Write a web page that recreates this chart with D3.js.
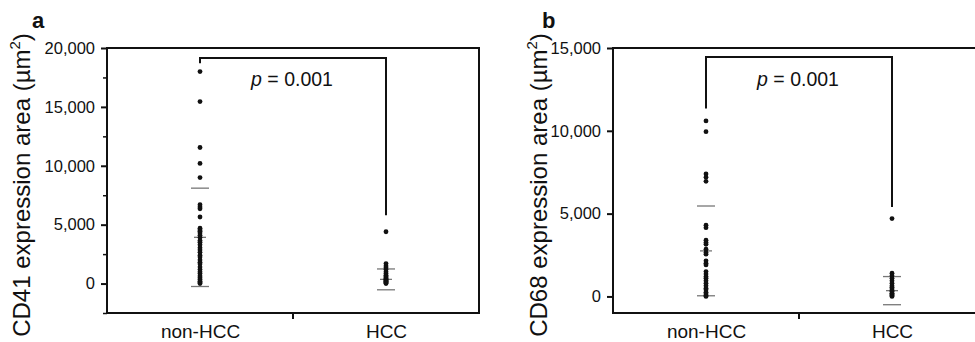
<!DOCTYPE html>
<html>
<head>
<meta charset="utf-8">
<script src="https://cdn.jsdelivr.net/npm/d3@7"></script>
<style>
  html, body { margin: 0; padding: 0; background: #fff; }
  svg { display: block; font-family: "Liberation Sans", Arial, sans-serif; }
  .axis path, .axis line { stroke: #111; }
  .axis text { fill: #111; }
</style>
</head>
<body>
<svg id="chart" width="975" height="342"></svg>
<script>
// categories shared by both panels
const categories = ['non-HCC', 'HCC'];

// panel a: CD41 expression area (µm²)
const cd41NonHcc = [18000, 15450, 11550, 10200, 9000, 6700, 6500, 6350, 5650,
  4700, 4550, 4450, 4300, 4100, 3900, 3650, 3500, 3300, 3050, 2850, 2650, 2400,
  2250, 2000, 1800, 1650, 1400, 1200, 1000, 850, 650, 500, 350, 200, 100, 0];
const cd41Hcc = [4400, 1700, 1500, 1350, 1200, 1000, 850, 700, 600, 500, 420,
  350, 300, 250, 200, 150, 100, 50, 0];
const cd41Mean = [3925, 355];
const cd41Sd = [4175, 885];
const cd41Ticks = [0, 5000, 10000, 15000, 20000];
const cd41Minor = [-2500, 2500, 7500, 12500, 17500];
const cd41Bracket = { top: 19150, left: 18700, right: 5800 };

// panel b: CD68 expression area (µm²)
const cd68NonHcc = [10600, 9950, 7400, 7200, 6950, 4300, 4150, 3400, 3250, 3150,
  2850, 2650, 2550, 2150, 2000, 1900, 1500, 1350, 1200, 1100, 950, 800, 650,
  500, 400, 250, 150, 50, 0];
const cd68Hcc = [4700, 1400, 1250, 1100, 950, 800, 650, 550, 450, 350, 300,
  200, 150, 100, 50, 0];
const cd68Mean = [2750, 350];
const cd68Sd = [2710, 850];
const cd68Ticks = [0, 5000, 10000, 15000];
const cd68Minor = [];
const cd68Bracket = { top: 14450, left: 11350, right: 5400 };

const pLabel = '= 0.001';

const svg = d3.select('#chart');
const plotW = 372, plotH = 265, plotTop = 48;

function drawPanel(opts) {
  const g = svg.append('g').attr('transform', `translate(${opts.left},${plotTop})`);

  const x = d3.scalePoint().domain(categories).range([0, plotW]).padding(0.5);
  const y = d3.scaleLinear().domain(opts.domain).range([plotH, 0]);

  // frame
  g.append('rect')
    .attr('width', plotW).attr('height', plotH)
    .attr('fill', 'none').attr('stroke', '#111').attr('stroke-width', 2);

  // y axis, major + minor ticks
  const yAxis = g.append('g').attr('class', 'axis')
    .call(d3.axisLeft(y).tickValues(opts.ticks).tickSize(6).tickPadding(6)
      .tickFormat(d3.format(',')));
  yAxis.select('.domain').remove();
  yAxis.selectAll('line').attr('stroke-width', 2);
  yAxis.selectAll('text').attr('font-size', 16.5);

  if (opts.minor.length) {
    const minor = g.append('g').attr('class', 'axis')
      .call(d3.axisLeft(y).tickValues(opts.minor).tickSize(4).tickFormat(''));
    minor.select('.domain').remove();
    minor.selectAll('line').attr('stroke-width', 1.5);
  }

  // x axis: category labels, one tick between groups
  const xAxis = g.append('g').attr('class', 'axis')
    .attr('transform', `translate(0,${plotH})`)
    .call(d3.axisBottom(x).tickSize(0).tickPadding(12));
  xAxis.select('.domain').remove();
  xAxis.selectAll('text').attr('font-size', 19);

  g.append('line')
    .attr('x1', plotW / 2).attr('x2', plotW / 2)
    .attr('y1', plotH).attr('y2', plotH + 6)
    .attr('stroke', '#111').attr('stroke-width', 2);

  // axis title
  const title = g.append('text')
    .attr('transform', `translate(${opts.titleX},${185 - plotTop}) rotate(-90)`)
    .attr('text-anchor', 'middle')
    .attr('font-size', 24)
    .attr('fill', '#111');
  title.append('tspan').text(opts.title + ' (µm');
  title.append('tspan').attr('font-size', 15).attr('dy', -10).text('2');
  title.append('tspan').attr('dy', 10).text(')');

  // panel letter
  svg.append('text')
    .attr('x', opts.letterX).attr('y', 28)
    .attr('font-size', 22).attr('font-weight', 'bold').attr('fill', '#111')
    .text(opts.letter);

  // mean ± SD bars
  categories.forEach((c, i) => {
    const cx = x(c);
    const m = opts.mean[i], s = opts.sd[i];
    [m + s, m - s].forEach(v => {
      g.append('line')
        .attr('x1', cx - 9).attr('x2', cx + 9)
        .attr('y1', y(v)).attr('y2', y(v))
        .attr('stroke', '#777').attr('stroke-width', 1.3);
    });
    g.append('line')
      .attr('x1', cx - 6).attr('x2', cx + 6)
      .attr('y1', y(m)).attr('y2', y(m))
      .attr('stroke', '#777').attr('stroke-width', 1.3);
  });

  // dots
  opts.series.forEach((vals, i) => {
    g.selectAll(null)
      .data(vals)
      .enter()
      .append('circle')
      .attr('cx', x(categories[i]))
      .attr('cy', d => y(d))
      .attr('r', 2.4)
      .attr('fill', '#111');
  });

  // significance bracket
  const b = opts.bracket;
  const x0 = x(categories[0]), x1 = x(categories[1]);
  g.append('path')
    .attr('d', `M${x0},${y(b.left)}V${y(b.top)}H${x1}V${y(b.right)}`)
    .attr('fill', 'none').attr('stroke', '#111').attr('stroke-width', 2);

  const p = g.append('text')
    .attr('x', (x0 + x1) / 2 - 1).attr('y', 86 - plotTop)
    .attr('text-anchor', 'middle')
    .attr('font-size', 19.5).attr('fill', '#111');
  p.append('tspan').attr('font-style', 'italic').text('p');
  p.append('tspan').text(' ' + pLabel);
}

drawPanel({
  left: 107, domain: [-2500, 20000], ticks: cd41Ticks, minor: cd41Minor,
  series: [cd41NonHcc, cd41Hcc], mean: cd41Mean, sd: cd41Sd,
  bracket: cd41Bracket, title: 'CD41 expression area', titleX: 30 - 107,
  letter: 'a', letterX: 32
});

drawPanel({
  left: 613, domain: [-1000, 15000], ticks: cd68Ticks, minor: cd68Minor,
  series: [cd68NonHcc, cd68Hcc], mean: cd68Mean, sd: cd68Sd,
  bracket: cd68Bracket, title: 'CD68 expression area', titleX: 547 - 613,
  letter: 'b', letterX: 542
});
</script>
</body>
</html>
